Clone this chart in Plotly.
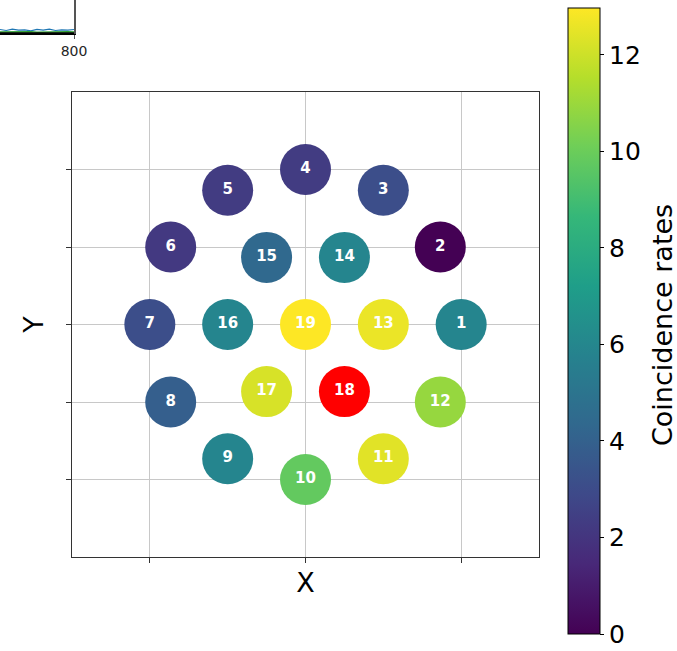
import math
import plotly.graph_objects as go

W, H = 677, 651

# Detector channels: ring index (distance from centre in pitch units) and angle
channels = list(range(1, 20))
ring = [2] * 12 + [1] * 6 + [0]
angle_deg = [0, 30, 60, 90, 120, 150, 180, 210, 240, 270, 300, 330,
             0, 60, 120, 180, 240, 300, 0]

# Coincidence rate per channel (channel 18 is the reference channel)
rates = [5.9, 0.0, 3.1, 2.3, 2.3, 2.2, 3.1, 3.9, 5.9, 9.8, 12.4, 10.9,
         12.6, 5.9, 4.4, 5.9, 12.2, None, 12.97]
reference_channel = 18

# Neighbouring waveform panel (only its lower-right corner is in view)
wave_t = [560, 580, 600, 620, 640, 660, 680, 700, 720, 740, 760, 780, 800]
wave_base = [0] * 13
wave_green = [0.45, 0.5, 0.4, 0.5, 0.45, 0.5, 0.4, 0.45, 0.5, 0.45, 0.4, 0.5, 0.45]
wave_blue = [1.2, 0.9, 1.3, 1.0, 1.1, 0.8, 1.2, 1.0, 1.3, 0.9, 1.1, 1.0, 1.2]

xs = [r * math.cos(math.radians(a)) for r, a in zip(ring, angle_deg)]
ys = [r * math.sin(math.radians(a)) for r, a in zip(ring, angle_deg)]

main_idx = [i for i, c in enumerate(channels) if c != reference_channel]
ref_idx = [i for i, c in enumerate(channels) if c == reference_channel]

label_font = dict(family="DejaVu Sans", size=15, color="white", weight="bold")
vals = [rates[i] for i in main_idx]

fig = go.Figure()
fig.add_trace(go.Scatter(
    x=[xs[i] for i in main_idx], y=[ys[i] for i in main_idx],
    mode="markers+text", text=[f"<b>{channels[i]}</b>" for i in main_idx],
    textposition="middle center", textfont=label_font,
    marker=dict(size=51, color=vals, colorscale="Viridis",
                cmin=0, cmax=max(vals), line=dict(width=0),
                colorbar=dict(
                    x=568 / W, xanchor="left", xpad=0,
                    y=1 - 8 / H, yanchor="top", ypad=0,
                    lenmode="pixels", len=626, thickness=32,
                    outlinewidth=1, outlinecolor="black",
                    ticks="outside", ticklen=4, tickcolor="black",
                    tickvals=[0, 2, 4, 6, 8, 10, 12],
                    tickfont=dict(family="DejaVu Sans", size=25, color="black"),
                )),
    showlegend=False, hoverinfo="skip", cliponaxis=False,
))
fig.add_trace(go.Scatter(
    x=[xs[i] for i in ref_idx], y=[ys[i] for i in ref_idx],
    mode="markers+text", text=[f"<b>{channels[i]}</b>" for i in ref_idx],
    textposition="middle center", textfont=label_font,
    marker=dict(size=51, color="red", line=dict(width=0)),
    showlegend=False, hoverinfo="skip",
))

# Waveform panel traces
for yv, col, wd in [(wave_blue, "#1f77b4", 1.2), (wave_green, "#2ca02c", 1.5),
                    (wave_base, "black", 2.5)]:
    fig.add_trace(go.Scatter(x=wave_t, y=yv, mode="lines", xaxis="x2", yaxis="y2",
                             line=dict(color=col, width=wd), showlegend=False,
                             hoverinfo="skip"))

axis_common = dict(
    range=[-3, 3], ticks="outside", ticklen=5, tickcolor="#333",
    showticklabels=False, showgrid=True, gridcolor="#c8c8c8", gridwidth=1,
    zeroline=False, showline=True, mirror=True, linecolor="#333", linewidth=1,
)

fig.update_layout(
    width=W, height=H, margin=dict(l=0, r=0, t=0, b=0, autoexpand=False),
    paper_bgcolor="white", plot_bgcolor="white",
    xaxis=dict(domain=[72 / W, 539 / W], tickvals=[-2, 0, 2],
               title=dict(text="X", font=dict(family="DejaVu Sans", size=27, color="black"),
                          standoff=11),
               **axis_common),
    yaxis=dict(domain=[(H - 557) / H, (H - 92) / H], tickvals=[-2, -1, 0, 1, 2],
               title=dict(text="Y", font=dict(family="DejaVu Sans", size=27, color="black"),
                          standoff=14),
               **axis_common),
    xaxis2=dict(domain=[0, 74 / W], anchor="y2", range=[560, 800],
                tickvals=[800], ticktext=["800"], ticks="outside", ticklen=4,
                tickcolor="#555", showline=True, linecolor="black", linewidth=1,
                showgrid=False, zeroline=False,
                tickfont=dict(family="DejaVu Sans", size=14, color="#262626")),
    yaxis2=dict(domain=[(H - 34) / H, 1], anchor="x2", side="right", range=[-0.15, 10],
                showline=True, linecolor="#555", linewidth=1.5, showgrid=False,
                zeroline=False, showticklabels=False, ticks=""),
    annotations=[dict(
        text="Coincidence rates", textangle=-90, showarrow=False,
        xref="paper", yref="paper", x=662 / W, y=(H - 325) / H,
        xanchor="center", yanchor="middle", borderpad=0,
        font=dict(family="DejaVu Sans", size=27, color="black"),
    )],
)

fig.write_html("out.html")
